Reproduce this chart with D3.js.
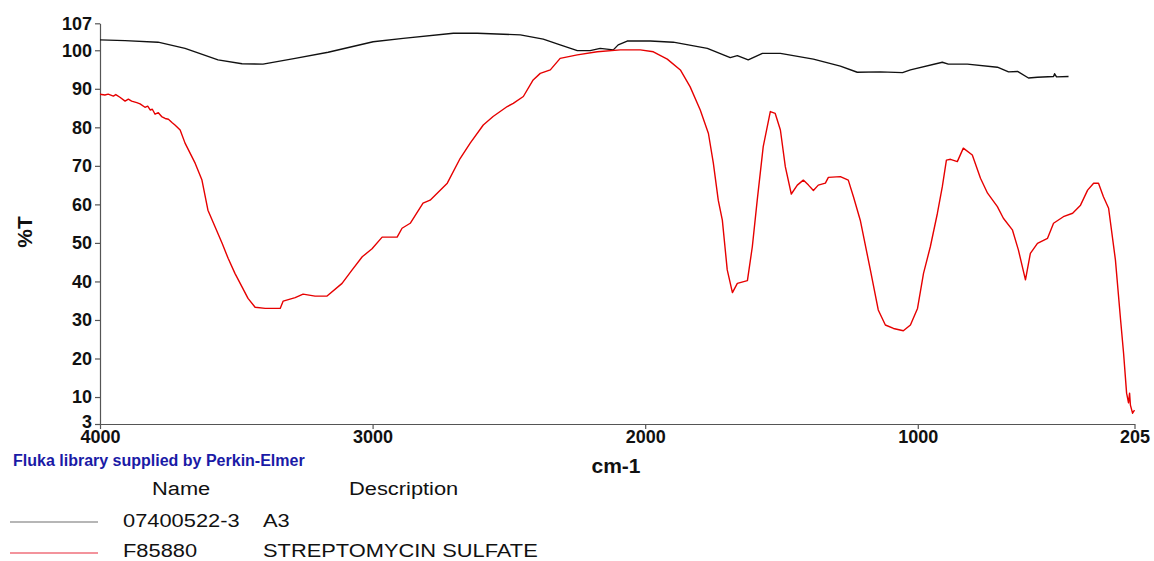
<!DOCTYPE html>
<html>
<head>
<meta charset="utf-8">
<script src="https://cdn.jsdelivr.net/npm/d3@7/dist/d3.min.js"></script>
<style>
  html, body { margin: 0; padding: 0; background: #fff; }
  svg text { font-family: "Liberation Sans", Arial, sans-serif; }
</style>
</head>
<body>
<svg id="chart" width="1154" height="561"></svg>
<script>
// Sample A3 (07400522-3): wavenumber (cm-1) and %T
const sampleWn = [4000, 3908, 3787, 3688, 3567, 3479, 3402, 3284, 3163, 2998, 2888, 2704, 2616, 2458,
  2374, 2312, 2249, 2202, 2165, 2117, 2099, 2066, 1981, 1897, 1772, 1688, 1662, 1622, 1570, 1504,
  1383, 1284, 1222, 1137, 1056, 1027, 910, 888, 818, 708, 667, 634, 594, 561, 502, 498, 491, 447];
const sampleT = [102.7, 102.5, 102.1, 100.5, 97.5, 96.5, 96.4, 97.9, 99.5, 102.2, 103.1, 104.4, 104.4, 104.0,
  102.9, 101.4, 99.9, 99.9, 100.5, 100.1, 101.4, 102.4, 102.4, 102.1, 100.5, 98.1, 98.6, 97.5, 99.2, 99.2,
  97.7, 95.9, 94.3, 94.4, 94.2, 94.9, 96.9, 96.4, 96.4, 95.6, 94.4, 94.5, 92.8, 93.0, 93.2, 93.9, 93.1, 93.2];

// Reference F85880 (STREPTOMYCIN SULFATE): wavenumber (cm-1) and %T
const refWn = [4000, 3982, 3970, 3951, 3942, 3927, 3908, 3896, 3884, 3865, 3853, 3835, 3825, 3816, 3808,
  3798, 3786, 3774, 3761, 3749, 3735, 3725, 3706, 3688, 3651, 3626, 3604, 3578, 3552, 3530, 3505, 3479,
  3457, 3431, 3394, 3339, 3328, 3284, 3255, 3211, 3167, 3112, 3075, 3038, 3002, 2965, 2910, 2892, 2862,
  2815, 2789, 2726, 2679, 2642, 2594, 2558, 2506, 2484, 2447, 2411, 2385, 2348, 2312, 2249, 2176, 2091,
  2018, 1970, 1919, 1871, 1835, 1798, 1768, 1750, 1732, 1717, 1699, 1680, 1662, 1625, 1607, 1589, 1567,
  1541, 1523, 1504, 1486, 1464, 1442, 1420, 1401, 1383, 1365, 1339, 1328, 1284, 1255, 1236, 1211, 1174,
  1145, 1119, 1089, 1053, 1027, 1001, 979, 954, 928, 910, 895, 880, 855, 833, 800, 770, 744, 708, 686,
  653, 631, 605, 587, 561, 524, 502, 466, 432, 403, 377, 355, 337, 319, 300, 275, 256, 245, 234, 227,
  223, 220, 212, 205];
const refT = [88.6, 88.4, 88.6, 88.1, 88.5, 87.8, 86.8, 87.3, 86.8, 86.4, 86.1, 85.2, 85.5, 84.5, 84.7,
  83.4, 83.8, 82.8, 82.3, 82.1, 81.2, 80.6, 79.3, 75.9, 70.7, 66.3, 58.5, 54.2, 49.9, 46.0, 42.1, 38.6,
  35.6, 33.3, 33.0, 33.0, 34.9, 35.8, 36.7, 36.2, 36.2, 39.5, 43.0, 46.4, 48.5, 51.5, 51.5, 53.8, 55.1,
  60.3, 61.1, 65.5, 71.9, 75.9, 80.6, 82.8, 85.4, 86.2, 88.0, 92.3, 94.0, 94.9, 97.9, 98.8, 99.6, 100.1,
  100.1, 99.6, 97.7, 94.9, 90.5, 84.5, 78.4, 70.7, 61.1, 55.9, 43.0, 37.1, 39.5, 40.2, 49.0, 61.1, 75.0,
  84.1, 83.6, 79.3, 69.8, 62.7, 65.0, 66.3, 65.0, 63.6, 65.0, 65.5, 67.0, 67.2, 66.3, 62.0, 55.9, 43.0,
  32.6, 28.7, 27.8, 27.2, 28.7, 33.0, 42.1, 49.0, 57.7, 64.6, 71.5, 71.7, 71.1, 74.6, 72.8, 66.8, 62.9,
  59.4, 56.4, 53.4, 48.2, 40.4, 47.3, 49.9, 51.2, 55.1, 56.8, 57.7, 59.8, 63.7, 65.5, 65.5, 62.0, 59.0,
  45.6, 30.0, 21.3, 11.0, 8.5, 11.0, 7.9, 5.8, 6.6];

const xTicks = [4000, 3000, 2000, 1000, 205];
const yTicks = [3, 10, 20, 30, 40, 50, 60, 70, 80, 90, 100, 107];

const legendRows = [
  { name: "07400522-3", desc: "A3", color: "#111111", key: "#6e6e6e" },
  { name: "F85880", desc: "STREPTOMYCIN SULFATE", color: "#e60000", key: "#e8283a" }
];

const svg = d3.select("#chart");
const axisColor = "#555";

const x = d3.scaleLinear().domain([4000, 205]).range([100, 1134.5]);
const y = d3.scaleLinear().domain([3, 107]).range([424, 23.3]);

// Y axis
const yAxis = svg.append("g")
  .attr("transform", "translate(100,0)")
  .call(d3.axisLeft(y).tickValues(yTicks).tickSize(5).tickSizeOuter(0).tickPadding(3));
// X axis
const xAxis = svg.append("g")
  .attr("transform", "translate(0,424)")
  .call(d3.axisBottom(x).tickValues(xTicks).tickFormat(d3.format("d"))
    .tickSize(5).tickSizeOuter(0).tickPadding(1));

[yAxis, xAxis].forEach(g => {
  g.select(".domain").attr("stroke", axisColor).attr("stroke-width", 1.2);
  g.selectAll(".tick line").attr("stroke", axisColor).attr("stroke-width", 1.2);
  g.selectAll(".tick text")
    .attr("fill", "#111")
    .style("font-family", "'Liberation Sans', Arial, sans-serif")
    .style("font-weight", "bold");
});
yAxis.selectAll(".tick text").style("font-size", "18px");
xAxis.selectAll(".tick text").style("font-size", "18px");
// the lowest y label sits just above the x-axis labels
yAxis.selectAll(".tick text").filter(d => d === 3).attr("dy", "0.2em");

// Axis titles
svg.append("text")
  .attr("transform", "translate(32,232) rotate(-90)")
  .attr("text-anchor", "middle")
  .style("font-size", "21px").style("font-weight", "bold").attr("fill", "#111")
  .text("%T");
svg.append("text")
  .attr("x", 616).attr("y", 473)
  .attr("text-anchor", "middle")
  .style("font-size", "21px").style("font-weight", "bold").attr("fill", "#111")
  .text("cm-1");

// Spectra
const line = d3.line().x(d => x(d[0])).y(d => y(d[1]));
const sample = sampleWn.map((w, i) => [w, sampleT[i]]);
const ref = refWn.map((w, i) => [w, refT[i]]);

svg.append("path").datum(sample)
  .attr("d", line).attr("fill", "none")
  .attr("stroke", legendRows[0].color).attr("stroke-width", 1.4).attr("stroke-linejoin", "round");
svg.append("path").datum(ref)
  .attr("d", line).attr("fill", "none")
  .attr("stroke", legendRows[1].color).attr("stroke-width", 1.4).attr("stroke-linejoin", "round");

// Source note
svg.append("text")
  .attr("x", 13).attr("y", 466)
  .style("font-size", "16px").style("font-weight", "bold")
  .attr("fill", "#1a1aa6")
  .text("Fluka library supplied by Perkin-Elmer");

// Legend (text drawn slightly wide)
const sx = 1.15;
const legend = svg.append("g");
legend.append("line")
  .attr("x1", 10).attr("x2", 98).attr("y1", 522).attr("y2", 522)
  .attr("stroke", legendRows[0].key).attr("stroke-width", 1.2);
legend.append("line")
  .attr("x1", 10).attr("x2", 98).attr("y1", 553).attr("y2", 553)
  .attr("stroke", legendRows[1].key).attr("stroke-width", 1.2);

const lt = legend.append("g").attr("transform", `scale(${sx},1)`);
function legendText(px, py, str) {
  lt.append("text").attr("x", px / sx).attr("y", py)
    .style("font-size", "19px").attr("fill", "#111").text(str);
}
legendText(152, 495, "Name");
legendText(349, 495, "Description");
legendRows.forEach((d, i) => {
  legendText(123, 527 + i * 30, d.name);
  legendText(263, 527 + i * 30, d.desc);
});
</script>
</body>
</html>
